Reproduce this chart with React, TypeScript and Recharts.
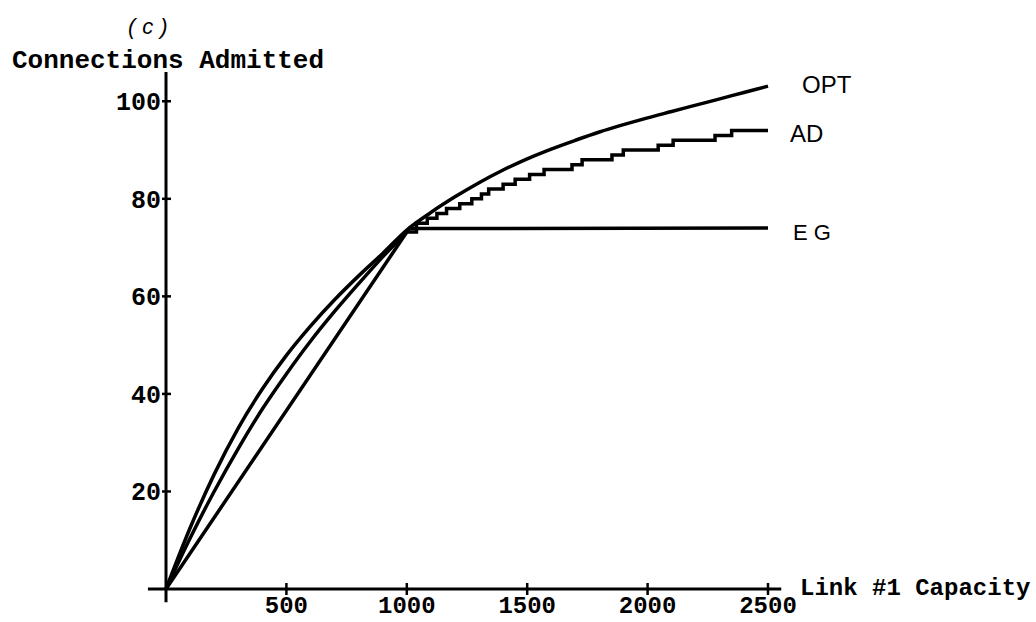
import { LineChart, Line, XAxis, YAxis, ReferenceLine } from "recharts";

// capacity grid for the smooth curves
const capacity = [0, 100, 200, 300, 400, 500, 600, 700, 800, 900, 1000, 1100, 1200, 1300, 1400, 1500, 1600, 1700, 1800, 1900, 2000, 2100, 2200, 2300, 2400, 2500];
const optAdmitted = [0, 12.5, 23.5, 33, 41, 47.9, 53.9, 59.3, 64.2, 68.8, 73.6, 77.2, 80.4, 83.3, 85.9, 88.2, 90.2, 92, 93.7, 95.2, 96.6, 97.9, 99.2, 100.5, 101.8, 103.1];

// AD: smooth part up to ~1000, then integer steps
const adCapacity = [0, 100, 200, 300, 400, 500, 600, 700, 800, 900, 1000];
const adAdmitted = [0, 10.4, 20, 28.8, 36.9, 44.1, 50.8, 56.9, 62.6, 68.1, 73.2];
const adStepCapacity = [1000, 1040, 1085, 1125, 1165, 1220, 1270, 1310, 1340, 1400, 1450, 1510, 1570, 1686, 1728, 1852, 1899, 2044, 2106, 2280, 2349, 2500];
const adStepAdmitted = [73.2, 75, 76, 77, 78, 79, 80, 81, 82, 83, 84, 85, 86, 87, 88, 89, 90, 91, 92, 93, 94, 94];

const egCapacity = [0, 1010, 2500];
const egAdmitted = [0, 73.9, 74];

const xTicks = [500, 1000, 1500, 2000, 2500];
const yTicks = [20, 40, 60, 80, 100];

const toPoints = (xs: number[], ys: number[]) => xs.map((x, i) => ({ capacity: x, admitted: ys[i] }));

const MONO = "'Liberation Mono', 'DejaVu Sans Mono', monospace";
const HAND = "'Liberation Sans', 'DejaVu Sans', sans-serif";

function XTick({ x, y, payload }: any) {
  return (
    <g>
      <line x1={x} x2={x} y1={y - 6} y2={y + 6} stroke="#000" strokeWidth={2.5} />
      <text x={x} y={y + 24} textAnchor="middle" fontFamily={MONO} fontWeight="bold" fontSize={24} fill="#000">
        {payload.value}
      </text>
    </g>
  );
}

function YTick({ x, y, payload }: any) {
  return (
    <g>
      <line x1={x - 4} x2={x + 5} y1={y} y2={y} stroke="#000" strokeWidth={2.5} />
      <text x={x - 5} y={y} dy="0.36em" textAnchor="end" fontFamily={MONO} fontWeight="bold" fontSize={25} fill="#000">
        {payload.value}
      </text>
    </g>
  );
}

export default function App() {
  return (
    <div style={{ position: "absolute", left: 0, top: 0, width: 1036, height: 622, background: "#fff" }}>
      <LineChart width={1036} height={622} margin={{ top: 72, right: 268, left: 106, bottom: 3 }}>
        <XAxis
          dataKey="capacity"
          type="number"
          domain={[0, 2500]}
          ticks={xTicks}
          interval={0}
          axisLine={false}
          tickLine={false}
          tickSize={0}
          tickMargin={0}
          height={30}
          tick={<XTick />}
        />
        <YAxis
          type="number"
          domain={[0, 106]}
          ticks={yTicks}
          interval={0}
          axisLine={false}
          tickLine={false}
          tickSize={0}
          tickMargin={0}
          width={60}
          tick={<YTick />}
        />
        <ReferenceLine segment={[{ x: -75, y: 0 }, { x: 2555, y: 0 }]} stroke="#000" strokeWidth={3} ifOverflow="visible" />
        <ReferenceLine segment={[{ x: 0, y: -2.7 }, { x: 0, y: 106 }]} stroke="#000" strokeWidth={3} ifOverflow="visible" />
        <Line data={toPoints(capacity, optAdmitted)} dataKey="admitted" type="monotone" stroke="#000" strokeWidth={3.5} dot={false} isAnimationActive={false} />
        <Line data={toPoints(adCapacity, adAdmitted)} dataKey="admitted" type="monotone" stroke="#000" strokeWidth={3.5} dot={false} isAnimationActive={false} />
        <Line data={toPoints(adStepCapacity, adStepAdmitted)} dataKey="admitted" type="stepAfter" stroke="#000" strokeWidth={3.5} dot={false} isAnimationActive={false} />
        <Line data={toPoints(egCapacity, egAdmitted)} dataKey="admitted" type="linear" stroke="#000" strokeWidth={3.5} dot={false} isAnimationActive={false} />
      </LineChart>
      <svg width={1036} height={622} style={{ position: "absolute", left: 0, top: 0, pointerEvents: "none" }}>
        <text x={128} y={34} fontFamily={HAND} fontStyle="italic" fontSize={22} letterSpacing={7} fill="#000">(c)</text>
        <text x={12} y={68} fontFamily={MONO} fontWeight="bold" fontSize={26} fill="#000">Connections Admitted</text>
        <text x={800} y={595} fontFamily={MONO} fontWeight="bold" fontSize={24} fill="#000">Link #1 Capacity</text>
        <text x={802} y={93} fontFamily={HAND} fontSize={24} fill="#000">OPT</text>
        <text x={790} y={142} fontFamily={HAND} fontSize={24} fill="#000">AD</text>
        <text x={793} y={240} fontFamily={HAND} fontSize={22} fill="#000">E G</text>
      </svg>
    </div>
  );
}
